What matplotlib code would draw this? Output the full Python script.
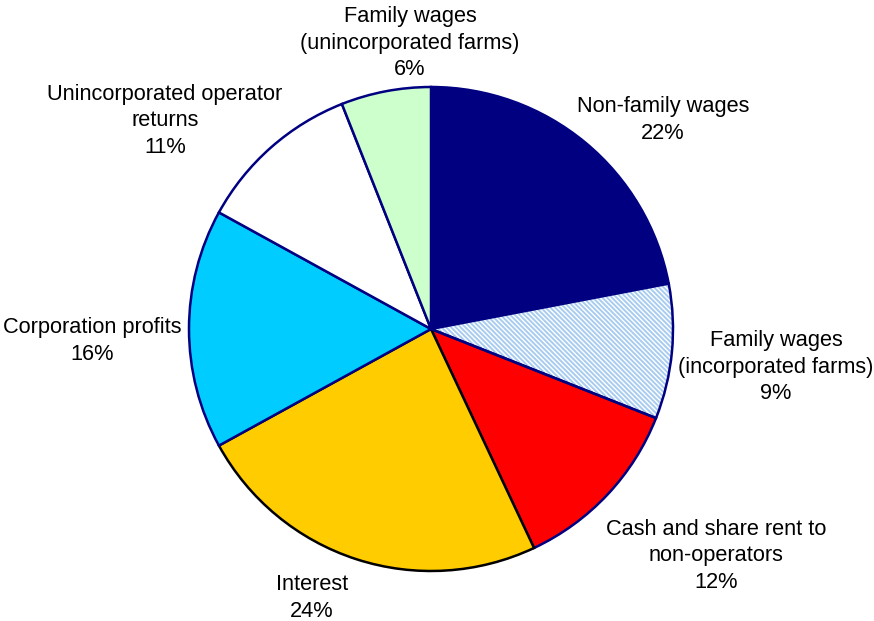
import matplotlib
matplotlib.use("Agg")
import matplotlib.pyplot as plt
from matplotlib.patches import Wedge

plt.rcParams['font.family'] = ['Liberation Sans', 'DejaVu Sans']
plt.rcParams['hatch.linewidth'] = 1.4

# data
labels = ['Non-family wages', 'Family wages\n(incorporated farms)',
          'Cash and share rent to\nnon-operators', 'Interest',
          'Corporation profits', 'Unincorporated operator\nreturns',
          'Family wages\n(unincorporated farms)']
shares = [22, 9, 12, 24, 16, 11, 6]
colors = ['#000080', '#ffffff', '#ff0000', '#ffcc00', '#00ccff', '#ffffff', '#ccffcc']
edges = ['#000080', '#000080', '#000080', '#000000', '#000080', '#000080', '#000080']

# label centres in pixels (layout only)
label_px = [(663, 120), (776, 367), (716, 556), (312, 598),
            (92, 341), (165, 121), (410, 43)]

W, H = 874, 621
cx, cy, R = 431, 329, 242

fig = plt.figure(figsize=(W / 100, H / 100), dpi=100)
ax = fig.add_axes([0, 0, 1, 1])

wedges, _ = ax.pie(shares, colors=colors, startangle=90, counterclock=False,
                   radius=1, wedgeprops=dict(linewidth=1.8))
for w, ec in zip(wedges, edges):
    w.set_edgecolor(ec)

# hatched slice: light blue hatch, outline drawn on top
hw = wedges[1]
hw.set_edgecolor('#a8ccf0')
hw.set_linewidth(0)
hw.set_hatch('\\' * 7)
ax.add_patch(Wedge(hw.center, hw.r, hw.theta1, hw.theta2, fill=False,
                   edgecolor='#000080', linewidth=1.8, zorder=3))

ax.set_aspect('auto')
ax.set_xlim(-cx / R, (W - cx) / R)
ax.set_ylim(-(H - cy) / R, cy / R)
ax.axis('off')

for lab, s, (px, py) in zip(labels, shares, label_px):
    ax.text((px - cx) / R, (cy - py) / R, f'{lab}\n{s}%', ha='center', va='center',
            fontsize=15.7, linespacing=1.36)

fig.savefig('out.png', dpi=100)
